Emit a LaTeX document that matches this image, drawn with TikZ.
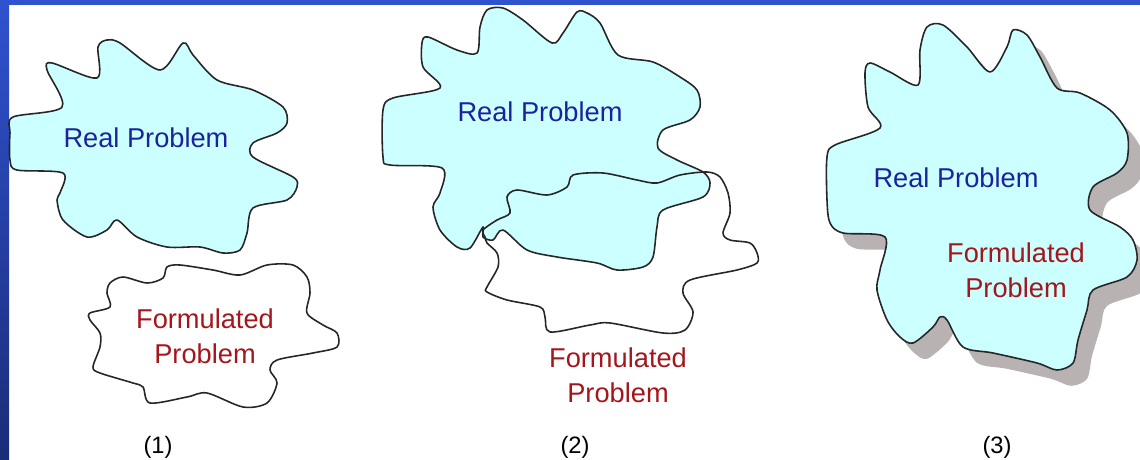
\documentclass[tikz,border=0pt]{standalone}
\usepackage{fontspec}
\setmainfont{Liberation Sans}
\usetikzlibrary{positioning}

\definecolor{cloudfill}{HTML}{CCFFFF}
\definecolor{realblue}{HTML}{1A239C}
\definecolor{formred}{HTML}{A3161C}
\definecolor{frameblue}{HTML}{2F52CF}
\definecolor{framedark}{HTML}{1B2C78}
\definecolor{shadowgray}{HTML}{B8B2B2}

\tikzset{
  cloud/.style={draw=black!85, line width=0.9pt, line join=round},
  realtxt/.style={text=realblue, font=\fontsize{15.5}{19.8}\selectfont},
  formtxt/.style={text=formred, align=center, font=\fontsize{15.5}{19.8}\selectfont},
  captxt/.style={text=black, font=\fontsize{13.5}{16}\selectfont},
}

\begin{document}
\begin{tikzpicture}[x=0.02cm, y=-0.02cm]
\useasboundingbox (0,0) rectangle (1140,460);
% Frame strips
\fill[frameblue] (0,0) rectangle (1140,5);
\shade[top color=frameblue, bottom color=framedark] (0,0) rectangle (9,460);

% (1) two separate clouds
\filldraw[cloud, fill=cloudfill] plot[smooth cycle, tension=0.5] coordinates {
  (13,117) (62,107) (47,70) (52,63) (97,78) (98,47) (107,40) (120,43)
  (160,70) (183,43) (193,55) (217,80) (253,90) (283,107) (287,123)
  (277,133) (253,143) (253,157) (293,177) (297,187) (287,200) (253,208)
  (247,233) (240,250) (223,253) (200,247) (167,247) (137,237) (117,220)
  (107,230) (87,237) (63,220) (57,200) (60,193) (63,173) (17,170)
  (10,160) (10,133)};
\draw[cloud] plot[smooth cycle, tension=0.5] coordinates {
  (110,283) (123,277) (147,283) (163,278) (167,267) (180,265) (213,270)
  (240,275) (267,265) (293,265) (307,277) (310,293) (307,313) (323,325)
  (337,333) (337,347) (313,353) (277,360) (270,370) (277,383) (267,403)
  (243,407) (207,393) (187,397) (150,403) (143,387) (133,383) (100,373)
  (93,367) (100,347) (100,333) (90,320) (90,313) (110,307) (107,293)};
\node[realtxt] (real1) at (146,138) {Real Problem};
\node[formtxt] (form1) at (205,336) {Formulated\\Problem};
\node[captxt] (cap1) at (158,447) {(1)};

% (2) overlapping clouds
\fill[cloudfill] plot[smooth cycle, tension=0.5] coordinates {
  (383,110) (393,98) (440,88) (423,67) (422,43) (428,37) (457,50) (477,53)
  (480,27) (487,10) (503,8) (523,20) (552,43) (563,33) (577,12) (587,13)
  (600,23) (618,55) (653,62) (680,77) (697,90) (700,107) (690,120)
  (663,130) (658,148) (677,160) (703,172) (710,183) (703,197) (663,210)
  (657,227) (653,257) (643,267) (617,270) (597,263) (557,257) (527,250)
  (503,230) (493,240) (483,237) (483,227) (470,248) (457,247) (440,230)
  (433,207) (440,193) (442,168) (390,165) (383,157)};
\draw[cloud] plot[smooth cycle, tension=0.5] coordinates {
  (483,230) (497,220) (510,213) (507,197) (517,190) (547,195) (567,187)
  (573,175) (603,173) (637,180) (657,183) (680,175) (707,172) (720,177)
  (728,193) (730,213) (723,233) (730,240) (750,243) (757,253) (757,263)
  (737,270) (690,280) (683,293) (693,312) (685,330) (663,333) (610,323)
  (590,325) (550,332) (545,317) (540,307) (507,300) (487,292) (487,287)
  (498,267) (497,253) (487,243) (485,237)};
\draw[cloud] plot[smooth cycle, tension=0.5] coordinates {
  (383,110) (393,98) (440,88) (423,67) (422,43) (428,37) (457,50) (477,53)
  (480,27) (487,10) (503,8) (523,20) (552,43) (563,33) (577,12) (587,13)
  (600,23) (618,55) (653,62) (680,77) (697,90) (700,107) (690,120)
  (663,130) (658,148) (677,160) (703,172) (710,183) (703,197) (663,210)
  (657,227) (653,257) (643,267) (617,270) (597,263) (557,257) (527,250)
  (503,230) (493,240) (483,237) (483,227) (470,248) (457,247) (440,230)
  (433,207) (440,193) (442,168) (390,165) (383,157)};
\node[realtxt] (real2) at (540,112) {Real Problem};
\node[formtxt] (form2) at (618,375) {Formulated\\Problem};
\node[captxt] (cap2) at (575,447) {(2)};

% (3) one cloud with shadow
\filldraw[cloud, fill=cloudfill,
  preaction={fill=shadowgray, draw=none, transform canvas={xshift=8pt, yshift=-9pt}}]
  plot[smooth cycle, tension=0.5] coordinates {
  (827,157) (835,145) (880,128) (868,107) (865,73) (870,63) (890,72)
  (918,85) (920,50) (927,27) (943,25) (967,47) (990,72) (1007,47)
  (1013,30) (1027,35) (1040,57) (1057,88) (1080,93) (1110,110) (1127,133)
  (1127,160) (1117,173) (1093,187) (1090,210) (1120,227) (1133,240)
  (1137,260) (1127,277) (1093,290) (1087,310) (1078,340) (1073,363)
  (1057,370) (1037,363) (993,353) (963,347) (947,320) (940,317) (933,327)
  (913,343) (900,337) (887,320) (877,290) (880,270) (885,237) (843,233)
  (830,223) (827,200)};
\node[realtxt] (real3) at (956,178) {Real Problem};
\node[formtxt] (form3) at (1016,270) {Formulated\\Problem};
\node[captxt] (cap3) at (997,447) {(3)};
\end{tikzpicture}
\end{document}
